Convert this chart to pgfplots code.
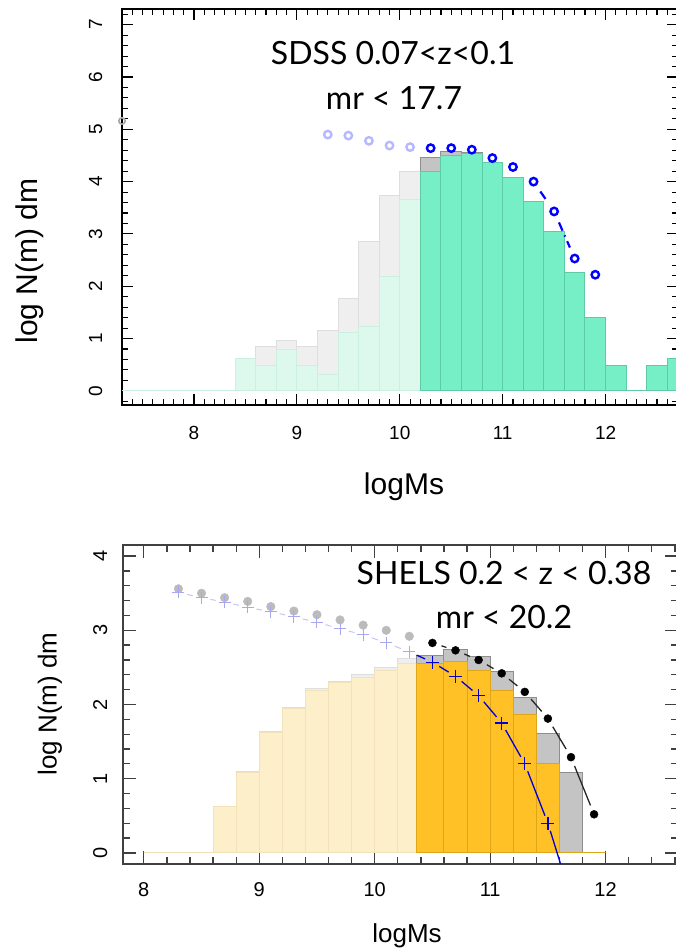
\documentclass[border=0pt]{standalone}
\usepackage{pgfplots}
\pgfplotsset{compat=1.18}
\usepackage{fontspec}
\setmainfont{Liberation Sans}
\newfontfamily\gill{Lato}
\definecolor{mint}{HTML}{76EEC6}
\definecolor{mintD}{HTML}{5FCBA5}
\definecolor{mintL}{HTML}{DDF9EE}
\definecolor{mintLD}{HTML}{CBF0E2}
\definecolor{grayL}{HTML}{EFEFEF}
\definecolor{grayLD}{HTML}{DEDEDE}
\definecolor{grayD}{HTML}{C4C4C4}
\definecolor{grayDD}{HTML}{8E8E8E}
\definecolor{gold}{HTML}{FFC125}
\definecolor{goldD}{HTML}{E0A61A}
\definecolor{goldL}{HTML}{FDEFC9}
\definecolor{goldLD}{HTML}{F2E2BA}
\definecolor{blueL}{HTML}{B8B8FF}
\definecolor{crossL}{HTML}{A8A8F2}
\definecolor{segL}{HTML}{C4C4F6}
\definecolor{dotG}{HTML}{BBBBBB}
\definecolor{axG}{HTML}{404040}
\newcommand{\seg}[3]{\addplot[#1] coordinates {(#2) (#3)};}
\begin{document}
\begin{tikzpicture}
\useasboundingbox (0pt,0pt) rectangle (676pt,950pt);
\clip (0pt,0pt) rectangle (676pt,950pt);
% ---------------- top panel ----------------
\begin{axis}[
  at={(122pt,545pt)}, anchor=south west,
  scale only axis, width=556pt, height=396pt,
  xmin=7.3, xmax=12.704, ymin=-0.27, ymax=7.3,
  xtick={8,9,10,11,12}, ytick={0,1,2,3,4,5,6,7},
  minor xtick={7.4,7.5,...,12.7},
  minor ytick={-0.2,0,...,7.2},
  major tick length=11pt, minor tick length=6pt,
  axis line style={line width=1.4pt, black},
  tick style={line width=1.1pt, black},
  /pgf/number format/assume math mode=true,
  xticklabel style={font=\fontsize{19}{19}\selectfont, anchor=base, inner sep=0pt},
  xticklabel shift=35pt,
  yticklabel style={font=\fontsize{19}{19}\selectfont, rotate=90, anchor=base, inner sep=0pt},
  yticklabel shift=20pt,
]
\addplot[ybar interval, fill=grayL, draw=grayLD, line width=1pt] coordinates {
 (8.4,0.62) (8.6,0.85) (8.8,0.97) (9.0,0.85) (9.2,1.16) (9.4,1.76) (9.6,2.86) (9.8,3.74) (10.0,4.19) (10.2,0)};
\addplot[ybar interval, fill=mintL, draw=mintLD, line width=1pt] coordinates {
 (7.2,0) (8.4,0.62) (8.6,0.49) (8.8,0.80) (9.0,0.49) (9.2,0.31) (9.4,1.11) (9.6,1.23) (9.8,2.19) (10.0,3.65) (10.2,0)};
\addplot[ybar interval, fill=grayD, draw=grayDD, line width=1pt] coordinates {
 (10.2,4.47) (10.4,4.58) (10.6,4.55) (10.8,4.36) (11.0,4.07) (11.2,3.62) (11.4,3.04) (11.6,2.26) (11.8,1.40) (12.0,0.48) (12.2,0) (12.4,0.48) (12.6,0.62) (12.8,0)};
\addplot[ybar interval, fill=mint, draw=mintD, line width=1pt] coordinates {
 (10.2,4.19) (10.4,4.50) (10.6,4.54) (10.8,4.36) (11.0,4.07) (11.2,3.62) (11.4,3.04) (11.6,2.26) (11.8,1.40) (12.0,0.48) (12.2,0) (12.4,0.48) (12.6,0.62) (12.8,0)};
\seg{blue, line width=2.2pt, shorten >=12pt, shorten <=12pt, dash pattern=on 9pt off 5pt}{11.3,4.00}{11.5,3.43}
\seg{blue, line width=2.2pt, shorten >=12pt, shorten <=12pt, dash pattern=on 9pt off 5pt on 1.5pt off 5pt}{11.5,3.43}{11.7,2.53}
\addplot[only marks, mark=o, mark size=3.2pt, gray!70, line width=1.6pt] coordinates {(7.3,5.16)};
\addplot[only marks, mark=o, mark size=3.7pt, blueL, line width=2.4pt] coordinates {
 (9.3,4.90) (9.5,4.88) (9.7,4.78) (9.9,4.69) (10.1,4.66)};
\addplot[only marks, mark=o, mark size=3.7pt, blue, line width=2.4pt] coordinates {
 (10.3,4.64) (10.5,4.64) (10.7,4.61) (10.9,4.45) (11.1,4.28) (11.3,4.00) (11.5,3.43) (11.7,2.53) (11.9,2.22)};
\end{axis}
% ---------------- bottom panel ----------------
\begin{axis}[
  at={(123pt,86pt)}, anchor=south west,
  scale only axis, width=555pt, height=319pt,
  xmin=7.82, xmax=12.627, ymin=-0.15, ymax=4.15,
  xtick={8,9,10,11,12}, ytick={0,1,2,3,4},
  minor xtick={7.8,8.0,...,12.6},
  minor ytick={0,0.2,...,4.0},
  major tick length=13pt, minor tick length=7pt,
  axis line style={line width=1.8pt, axG},
  tick style={line width=1.3pt, axG},
  /pgf/number format/assume math mode=true,
  xticklabel style={font=\fontsize{20}{20}\selectfont, anchor=base, inner sep=0pt},
  xticklabel shift=33pt,
  yticklabel style={font=\fontsize{20}{20}\selectfont, rotate=90, anchor=base, inner sep=0pt},
  yticklabel shift=16pt,
]
\addplot[ybar interval, fill=grayL, draw=grayLD, line width=1pt] coordinates {
 (8.6,0.62) (8.8,1.10) (9.0,1.64) (9.2,1.96) (9.4,2.21) (9.6,2.31) (9.8,2.41) (10.0,2.50) (10.2,2.62) (10.36,0)};
\addplot[ybar interval, fill=goldL, draw=goldLD, line width=1pt] coordinates {
 (8.0,0) (8.6,0.62) (8.8,1.09) (9.0,1.62) (9.2,1.94) (9.4,2.19) (9.6,2.29) (9.8,2.37) (10.0,2.46) (10.2,2.55) (10.36,0)};
\addplot[ybar interval, fill=grayD, draw=grayDD, line width=1pt] coordinates {
 (10.36,2.66) (10.6,2.74) (10.8,2.65) (11.0,2.44) (11.2,2.09) (11.4,1.61) (11.6,1.08) (11.8,0)};
\addplot[ybar interval, fill=gold, draw=goldD, line width=1pt] coordinates {
 (10.36,2.55) (10.6,2.58) (10.8,2.46) (11.0,2.19) (11.2,1.87) (11.4,1.21) (11.6,0) (11.8,0) (12.0,0)};
% light blue connecting segments
\seg{segL, line width=1pt, shorten >=9pt, shorten <=9pt}{8.3,3.51}{8.5,3.44}
\seg{segL, line width=1pt, shorten >=9pt, shorten <=9pt}{8.5,3.44}{8.7,3.38}
\seg{segL, line width=1pt, shorten >=9pt, shorten <=9pt}{8.7,3.38}{8.9,3.31}
\seg{segL, line width=1pt, shorten >=9pt, shorten <=9pt}{8.9,3.31}{9.1,3.25}
\seg{segL, line width=1pt, shorten >=9pt, shorten <=9pt}{9.1,3.25}{9.3,3.18}
\seg{segL, line width=1pt, shorten >=9pt, shorten <=9pt}{9.3,3.18}{9.5,3.11}
\seg{segL, line width=1pt, shorten >=9pt, shorten <=9pt}{9.5,3.11}{9.7,3.02}
\seg{segL, line width=1pt, shorten >=9pt, shorten <=9pt}{9.7,3.02}{9.9,2.94}
\seg{segL, line width=1pt, shorten >=9pt, shorten <=9pt}{9.9,2.94}{10.1,2.83}
\seg{segL, line width=1pt, shorten >=9pt, shorten <=9pt}{10.1,2.83}{10.3,2.71}
% dark blue segments
\seg{blue!85!black, line width=1.3pt, shorten >=8pt, shorten <=8pt}{10.3,2.71}{10.5,2.57}
\seg{blue!85!black, line width=1.3pt, shorten >=8pt, shorten <=8pt}{10.5,2.57}{10.7,2.38}
\seg{blue!85!black, line width=1.3pt, shorten >=8pt, shorten <=8pt}{10.7,2.38}{10.9,2.12}
\seg{blue!85!black, line width=1.3pt, shorten >=8pt, shorten <=8pt}{10.9,2.12}{11.1,1.75}
\seg{blue!85!black, line width=1.3pt, shorten >=8pt, shorten <=8pt}{11.1,1.75}{11.3,1.20}
\seg{blue!85!black, line width=1.3pt, shorten >=8pt, shorten <=8pt}{11.3,1.20}{11.5,0.40}
\seg{blue!85!black, line width=1.3pt, shorten <=8pt}{11.5,0.40}{11.63,-0.25}
% black segments
\seg{black!85, line width=1.3pt, shorten >=9.5pt, shorten <=9.5pt}{10.5,2.83}{10.7,2.73}
\seg{black!85, line width=1.3pt, shorten >=9.5pt, shorten <=9.5pt}{10.7,2.73}{10.9,2.60}
\seg{black!85, line width=1.3pt, shorten >=9.5pt, shorten <=9.5pt}{10.9,2.60}{11.1,2.42}
\seg{black!85, line width=1.3pt, shorten >=9.5pt, shorten <=9.5pt}{11.1,2.42}{11.3,2.17}
\seg{black!85, line width=1.3pt, shorten >=9.5pt, shorten <=9.5pt}{11.3,2.17}{11.5,1.81}
\seg{black!85, line width=1.3pt, shorten >=9.5pt, shorten <=9.5pt}{11.5,1.81}{11.7,1.29}
\seg{black!85, line width=1.3pt, shorten >=9.5pt, shorten <=9.5pt}{11.7,1.29}{11.9,0.52}
% markers
\addplot[only marks, mark=*, mark size=4.3pt, dotG] coordinates {
 (8.3,3.56) (8.5,3.50) (8.7,3.44) (8.9,3.39) (9.1,3.32) (9.3,3.26) (9.5,3.21) (9.7,3.14) (9.9,3.07) (10.1,3.00) (10.3,2.92)};
\addplot[only marks, mark=+, mark size=6pt, crossL, line width=1pt] coordinates {
 (8.3,3.51) (8.5,3.44) (8.7,3.38) (8.9,3.31) (9.1,3.25) (9.3,3.18) (9.5,3.11) (9.7,3.02) (9.9,2.94) (10.1,2.83) (10.3,2.71)};
\addplot[only marks, mark=*, mark size=4pt, black] coordinates {
 (10.5,2.83) (10.7,2.73) (10.9,2.60) (11.1,2.42) (11.3,2.17) (11.5,1.81) (11.7,1.29) (11.9,0.52)};
\addplot[only marks, mark=+, mark size=6.5pt, blue!85!black, line width=1.3pt] coordinates {
 (10.5,2.57) (10.7,2.38) (10.9,2.12) (11.1,1.75) (11.3,1.20) (11.5,0.40)};
\end{axis}
% ---------------- texts ----------------
\node[anchor=base, inner sep=0pt, font=\gill\fontsize{32}{32}\selectfont] at (393pt,885pt) {SDSS 0.07<z<0.1};
\node[anchor=base, inner sep=0pt, font=\gill\fontsize{32}{32}\selectfont] at (394pt,840pt) {mr < 17.7};
\node[anchor=base, inner sep=0pt, font=\gill\fontsize{32}{32}\selectfont] at (504pt,365pt) {SHELS 0.2 < z < 0.38};
\node[anchor=base, inner sep=0pt, font=\gill\fontsize{32}{32}\selectfont] at (504pt,321pt) {mr < 20.2};
\node[anchor=base, inner sep=0pt, font=\fontsize{30}{30}\selectfont] at (404pt,455pt) {logMs};
\node[anchor=base, inner sep=0pt, font=\fontsize{26}{26}\selectfont] at (407pt,7pt) {logMs};
\node[anchor=center, inner sep=0pt, rotate=90, font=\fontsize{30}{30}\selectfont] at (29.5pt,689pt) {log N(m) dm};
\node[anchor=center, inner sep=0pt, rotate=90, font=\fontsize{26}{26}\selectfont] at (50pt,246pt) {log N(m) dm};
\end{tikzpicture}
\end{document}
